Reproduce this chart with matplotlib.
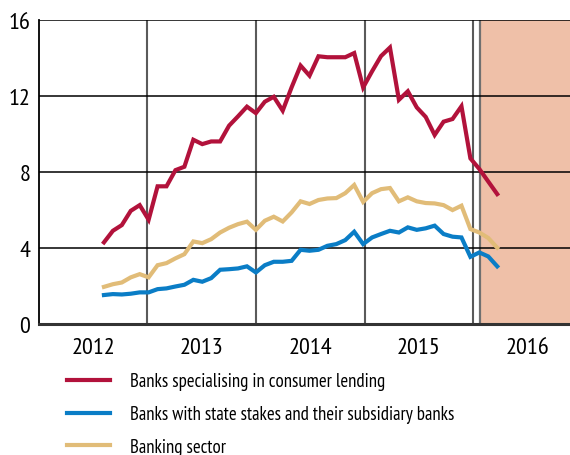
import numpy as np
import matplotlib
matplotlib.use('Agg')
import matplotlib.pyplot as plt

plt.rcParams['font.family'] = ['PT Sans Narrow', 'DejaVu Sans']

consumer = [4.30, 4.91, 5.21, 5.96, 6.26, 5.49, 7.25, 7.25, 8.10, 8.28,
            9.70, 9.47, 9.61, 9.61, 10.44, 10.93, 11.44, 11.10, 11.70, 11.96,
            11.23, 12.46, 13.60, 13.07, 14.09, 14.04, 14.04, 14.04, 14.26, 12.45,
            13.30, 14.10, 14.55, 11.80, 12.25, 11.40, 10.90, 9.95, 10.65, 10.79,
            11.46, 8.72, 8.16, 7.50, 6.84]
state = [1.53, 1.58, 1.56, 1.60, 1.67, 1.67, 1.84, 1.88, 1.98, 2.07,
         2.33, 2.23, 2.42, 2.86, 2.89, 2.93, 3.04, 2.72, 3.10, 3.28,
         3.28, 3.33, 3.91, 3.86, 3.91, 4.12, 4.21, 4.42, 4.86, 4.21,
         4.56, 4.74, 4.91, 4.82, 5.09, 4.96, 5.04, 5.18, 4.74, 4.60,
         4.56, 3.54, 3.77, 3.56, 3.04]
sector = [1.96, 2.10, 2.19, 2.46, 2.63, 2.46, 3.10, 3.21, 3.46, 3.68,
          4.35, 4.26, 4.47, 4.82, 5.07, 5.26, 5.39, 4.96, 5.44, 5.65,
          5.40, 5.88, 6.46, 6.32, 6.53, 6.61, 6.63, 6.89, 7.32, 6.43,
          6.89, 7.10, 7.16, 6.46, 6.67, 6.46, 6.37, 6.35, 6.26, 6.00,
          6.23, 5.00, 4.82, 4.53, 4.02]
dates = np.linspace(2012.6, 2016.22, len(consumer))

years = [2012, 2013, 2014, 2015, 2016]
forecast_start = 2016.06

red = '#B2123B'
blue = '#0A7DC6'
sand = '#E1BC78'

fig = plt.figure(figsize=(5.7, 4.56), dpi=100)
ax = fig.add_axes([0.068, 0.287, 0.932, 0.667])

ax.axvspan(forecast_start, 2017, color='#EFC0A8', lw=0, zorder=0.1)
ax.axvline(forecast_start, color='#707070', lw=1.6, zorder=0.3)

ax.plot(dates, consumer, color=red, lw=3, solid_joinstyle='miter',
        label='Banks specialising in consumer lending', zorder=3)
ax.plot(dates, state, color=blue, lw=3, solid_joinstyle='miter',
        label='Banks with state stakes and their subsidiary banks', zorder=3)
ax.plot(dates, sector, color=sand, lw=3, solid_joinstyle='miter',
        label='Banking sector', zorder=3)

ax.set_xlim(2012, 2016.89)
ax.set_ylim(0, 16)

ax.set_yticks([0, 4, 8, 12, 16])
ax.set_xticks(years[1:])
ax.set_xticklabels([])
ax.set_xticks([y + 0.5 for y in years], [str(y) for y in years], minor=True)
ax.tick_params(axis='both', which='both', length=0, labelsize=17.5)
ax.tick_params(axis='y', pad=6)
ax.tick_params(axis='x', which='minor', pad=9)

ax.set_axisbelow(True)
ax.grid(axis='y', color='black', lw=1.1)
ax.grid(axis='x', which='major', color='#5a5a5a', lw=1.5)

for side in ['top', 'right']:
    ax.spines[side].set_visible(False)
ax.spines['left'].set_color('black')
ax.spines['left'].set_linewidth(1.3)
ax.spines['bottom'].set_color('#333333')
ax.spines['bottom'].set_linewidth(2.2)

fig.legend(loc='upper left', bbox_to_anchor=(0.1175, 0.181), frameon=False,
           fontsize=13.5, handlelength=2.3, handletextpad=1.05, labelspacing=0.78,
           borderaxespad=0, borderpad=0)

fig.savefig('out.png', dpi=100)
